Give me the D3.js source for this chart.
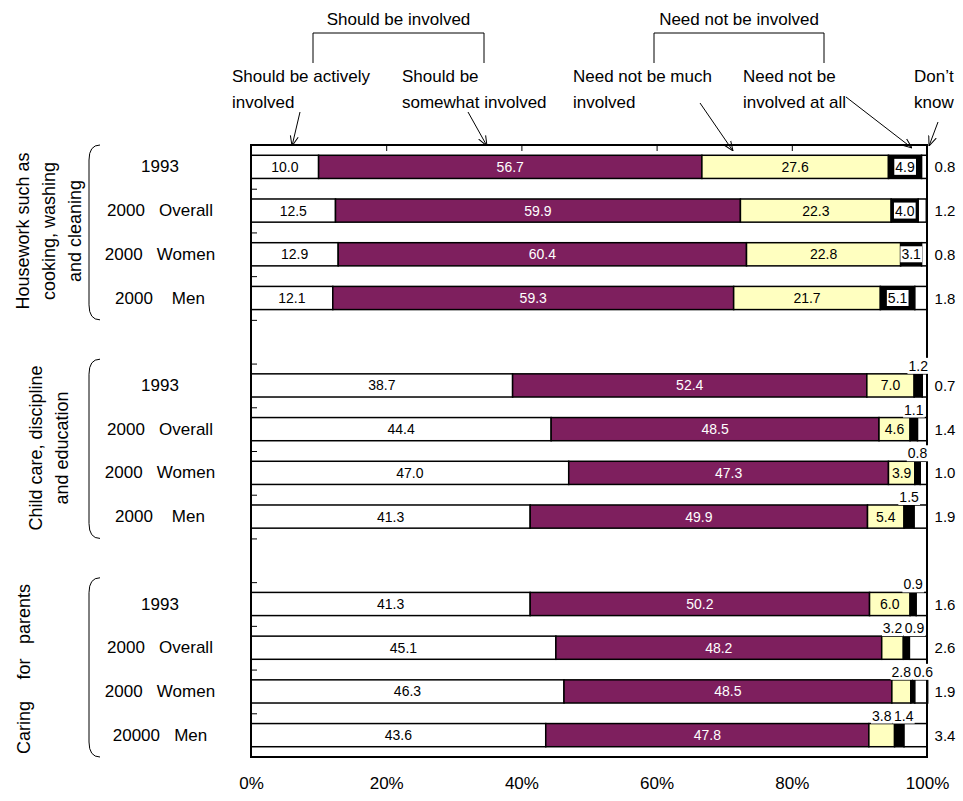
<!DOCTYPE html>
<html>
<head>
<meta charset="utf-8">
<script src="https://cdn.jsdelivr.net/npm/d3@7"></script>
<style>
  body { margin: 0; background: #fff; }
  text { font-family: "Liberation Sans Narrow", "Arial Narrow", "Liberation Sans", Arial, sans-serif; fill: #000; }
</style>
</head>
<body>
<div id="chart"></div>
<script>
// answer categories (stack order) and their fills
var categories = ["Should be actively involved", "Should be somewhat involved", "Need not be much involved", "Need not be involved at all", "Don't know"];
var fills = ["#ffffff", "#7e1f5e", "#ffffc0", "#000000", "#ffffff"];

var groupNames = [["Housework such as", "cooking, washing", "and cleaning"], ["Child care, discipline", "and education"], ["Caring", "for", "parents"]];
var rowLabels = ["1993", "2000   Overall", "2000   Women", "2000    Men",
                 "1993", "2000   Overall", "2000   Women", "2000    Men",
                 "1993", "2000   Overall", "2000   Women", "20000   Men"];

var activelyInvolved  = [10.0, 12.5, 12.9, 12.1, 38.7, 44.4, 47.0, 41.3, 41.3, 45.1, 46.3, 43.6];
var somewhatInvolved  = [56.7, 59.9, 60.4, 59.3, 52.4, 48.5, 47.3, 49.9, 50.2, 48.2, 48.5, 47.8];
var notMuchInvolved   = [27.6, 22.3, 22.8, 21.7, 7.0, 4.6, 3.9, 5.4, 6.0, 3.2, 2.8, 3.8];
var notInvolvedAtAll  = [4.9, 4.0, 3.1, 5.1, 1.2, 1.1, 0.8, 1.5, 0.9, 0.9, 0.6, 1.4];
var dontKnow          = [0.8, 1.2, 0.8, 1.8, 0.7, 1.4, 1.0, 1.9, 1.6, 2.6, 1.9, 3.4];

var tickValues = [0, 20, 40, 60, 80, 100];

var width = 963, height = 801;
var plotL = 251, plotR = 927, plotT = 145, plotB = 757;
var keys = ["a", "b", "c", "d", "e"];

var table = rowLabels.map(function (l, i) {
    return { label: l, group: Math.floor(i / 4), slot: i + Math.floor(i / 4),
             a: activelyInvolved[i], b: somewhatInvolved[i], c: notMuchInvolved[i],
             d: notInvolvedAtAll[i], e: dontKnow[i] };
});

var svg = d3.select("#chart").append("svg").attr("width", width).attr("height", height);

var x = d3.scaleLinear().domain([0, 100]).range([plotL, plotR]);
var slots = d3.range(14);
var y = d3.scaleBand().domain(slots).range([plotT, plotB]).paddingInner(0.47).paddingOuter(0.235);
var ySlot = d3.scaleLinear().domain([0, 14]).range([plotT, plotB]);

var series = d3.stack().keys(keys)(table);

// bars
svg.append("g").selectAll("g").data(series).enter().append("g")
    .attr("fill", function (s, i) { return fills[i]; })
    .selectAll("rect").data(function (s) { return s; }).enter().append("rect")
    .attr("x", function (d) { return x(d[0]); })
    .attr("width", function (d) { return x(d[1]) - x(d[0]); })
    .attr("y", function (d) { return y(d.data.slot); })
    .attr("height", y.bandwidth())
    .attr("stroke", "#000").attr("stroke-width", 1.5);

// plot frame and axes
svg.append("rect").attr("x", plotL).attr("y", plotT).attr("width", plotR - plotL).attr("height", plotB - plotT)
    .attr("fill", "none").attr("stroke", "#000").attr("stroke-width", 2);

svg.append("g").attr("transform", "translate(0," + plotT + ")")
    .call(d3.axisTop(x).tickValues([20, 40, 60, 80]).tickSize(-6).tickFormat(""))
    .call(function (g) { g.select(".domain").remove(); });

svg.append("g").attr("transform", "translate(" + plotL + ",0)")
    .call(d3.axisLeft(ySlot).tickValues(d3.range(1, 14)).tickSize(-6).tickFormat(""))
    .call(function (g) { g.select(".domain").remove(); });

svg.append("g").attr("transform", "translate(0," + (plotB + 17) + ")")
    .call(d3.axisBottom(x).tickValues(tickValues).tickSize(0).tickFormat(function (d) { return d + "%"; }))
    .call(function (g) {
        g.select(".domain").remove();
        g.selectAll("text").attr("font-size", 17).attr("dy", "0.71em")
            .style("font-family", "'Liberation Sans Narrow','Arial Narrow','Liberation Sans',sans-serif");
    });

// value labels
var lab = svg.append("g").attr("font-size", 14);
function boxLabel(cx, cy, txt) {
    var t = lab.append("text").attr("x", cx).attr("y", cy).attr("text-anchor", "middle")
        .attr("dominant-baseline", "central").text(txt);
    var bb = t.node().getBBox();
    lab.insert("rect", function () { return t.node(); })
        .attr("x", bb.x - 1).attr("y", bb.y).attr("width", bb.width + 2).attr("height", bb.height)
        .attr("fill", "#fff");
}
table.forEach(function (row) {
    var yTop = y(row.slot), yc = yTop + y.bandwidth() / 2, cum = 0;
    var aboveX = -Infinity;
    keys.forEach(function (k, j) {
        var v = row[k], x0 = x(cum), x1 = x(cum + v), cx = (x0 + x1) / 2;
        cum += v;
        var txt = v.toFixed(1);
        if (j === 4) {
            lab.append("text").attr("x", plotR + 18).attr("y", yc).attr("text-anchor", "middle")
                .attr("dominant-baseline", "central").attr("font-size", 15).text(txt);
            return;
        }
        var above = row.group > 0 && (j === 3 || v < 3.85);
        if (above) {
            var px = Math.max(cx, aboveX + 22);
            aboveX = px;
            boxLabel(px, yTop - 8, txt);
        } else if (j === 3) {
            boxLabel(cx, yc, txt);
        } else {
            lab.append("text").attr("x", cx).attr("y", yc).attr("text-anchor", "middle")
                .attr("dominant-baseline", "central")
                .style("fill", j === 1 ? "#fff" : "#000").text(txt);
        }
    });
    // row label
    svg.append("text").attr("x", 160).attr("y", yc).attr("text-anchor", "middle")
        .attr("dominant-baseline", "central").attr("font-size", 17)
        .style("white-space", "pre").text(row.label);
});

// group brackets
[0, 1, 2].forEach(function (g) {
    var y0 = g === 0 ? ySlot(0) : ySlot(g * 5 - 0.1), y1 = ySlot(g * 5 + 4);
    svg.append("path")
        .attr("d", "M100," + y0 + " Q89," + y0 + " 89," + (y0 + 15) + " L89," + (y1 - 15) + " Q89," + y1 + " 100," + y1)
        .attr("fill", "none").attr("stroke", "#000").attr("stroke-width", 1);
});
// group names (rotated)
var gl = svg.append("g").attr("font-size", 18);
groupNames[0].forEach(function (t, i) {
    gl.append("text").attr("transform", "translate(" + (23 + i * 26) + ",231) rotate(-90)")
        .attr("text-anchor", "middle").attr("dominant-baseline", "central").text(t);
});
groupNames[1].forEach(function (t, i) {
    gl.append("text").attr("transform", "translate(" + (36 + i * 26) + ",448) rotate(-90)")
        .attr("text-anchor", "middle").attr("dominant-baseline", "central").text(t);
});
var cg = gl.append("g").attr("transform", "translate(24,669) rotate(-90)");
["start", "middle", "end"].forEach(function (a, i) {
    cg.append("text").attr("x", -85 + i * 85).attr("text-anchor", a)
        .attr("dominant-baseline", "central").text(groupNames[2][i]);
});

// legend above the plot
var leg = svg.append("g").attr("font-size", 17);
var legendPos = [[232, 300, 112, 292, 146], [402, 468, 112, 487, 146],
                 [573, 700, 103, 733, 151], [743, 846, 97, 912, 148],
                 [914, 938, 122, 929, 146]];
var legendLines = [["Should be actively", "involved"], ["Should be", "somewhat involved"],
                   ["Need not be much", "involved"], ["Need not be", "involved at all"], ["Don\u2019t", "know"]];
svg.append("defs").append("marker").attr("id", "arr").attr("viewBox", "0 0 10 10")
    .attr("refX", 10).attr("refY", 5).attr("markerWidth", 10).attr("markerHeight", 10)
    .attr("markerUnits", "userSpaceOnUse").attr("orient", "auto")
    .append("path").attr("d", "M0,1 L10,5 L0,9").attr("fill", "none").attr("stroke", "#000");
legendLines.forEach(function (ls, i) {
    var p = legendPos[i];
    ls.forEach(function (t, k) {
        leg.append("text").attr("x", p[0]).attr("y", 82 + k * 26).text(t);
    });
    leg.append("line").attr("x1", p[1]).attr("y1", p[2]).attr("x2", p[3]).attr("y2", p[4])
        .attr("stroke", "#000").attr("stroke-width", 1).attr("marker-end", "url(#arr)");
});
[["Should be involved", 313, 484], ["Need not be involved", 654, 824]].forEach(function (b) {
    leg.append("text").attr("x", (b[1] + b[2]) / 2).attr("y", 25).attr("text-anchor", "middle").text(b[0]);
    leg.append("path").attr("d", "M" + b[1] + ",63 L" + b[1] + ",33 L" + b[2] + ",33 L" + b[2] + ",63")
        .attr("fill", "none").attr("stroke", "#000").attr("stroke-width", 1);
});
</script>
</body>
</html>
